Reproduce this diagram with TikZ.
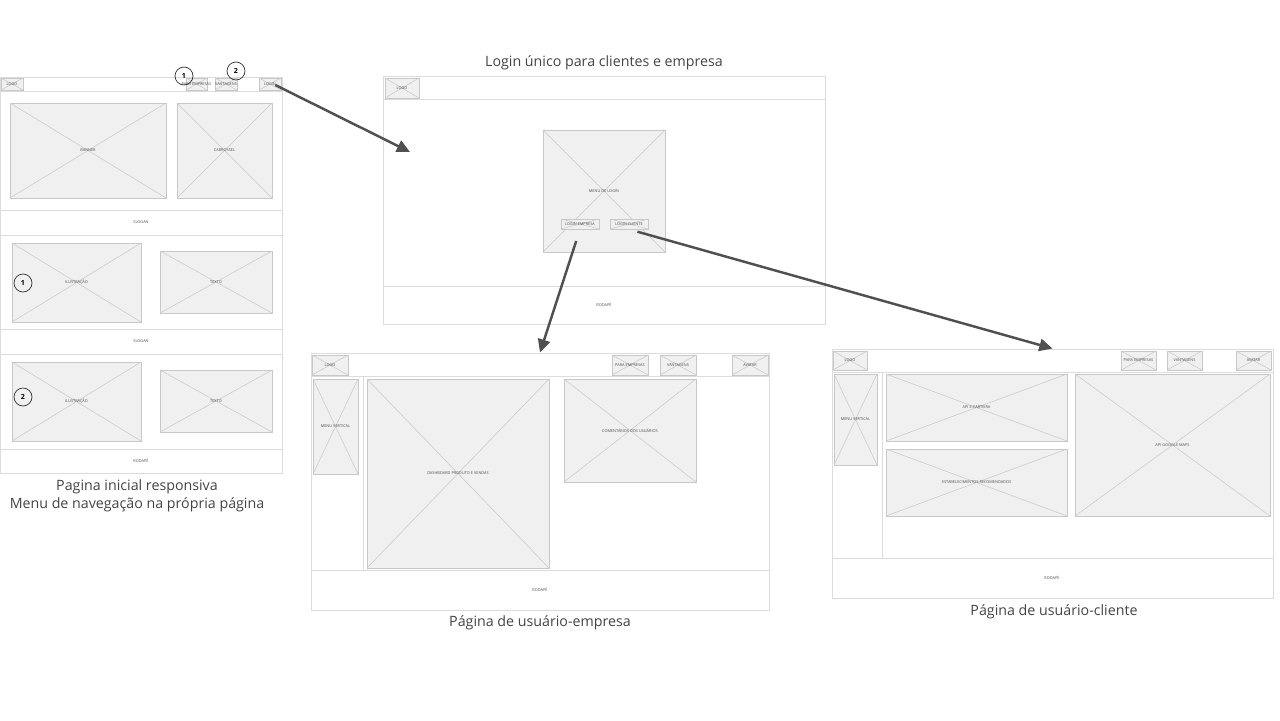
\documentclass[tikz,border=0pt]{standalone}
\usepackage{fontspec}
\setmainfont{Open Sans}
\setsansfont{Open Sans}
\usetikzlibrary{arrows.meta,fit}

\definecolor{frame}{HTML}{DCDCDC}
\definecolor{phfill}{HTML}{F0F0F0}
\definecolor{phline}{HTML}{C8C8C8}
\definecolor{flow}{HTML}{505050}
\definecolor{captioncol}{HTML}{444444}

\tikzset{
	page/.style={draw=frame, line width=0.5pt, inner sep=0pt},
	rule/.style={draw=frame, line width=0.5pt},
	ph/.style={draw=phline, fill=phfill, line width=0.35pt, inner sep=0pt,
		path picture={\draw[phline, line width=0.3pt]
			(path picture bounding box.north west) -- (path picture bounding box.south east)
			(path picture bounding box.south west) -- (path picture bounding box.north east);}},
	tiny/.style={font=\fontsize{2.2}{2.4}\selectfont, text=black!70},
	captext/.style={font=\fontsize{8.1}{10.6}\selectfont, text=captioncol, align=center},
	marker/.style={circle, draw=black!80, line width=0.4pt, minimum size=0.36cm, inner sep=0pt,
		font=\fontsize{4}{4}\selectfont\bfseries},
	flowarrow/.style={flow, line width=1.4pt, -{Triangle[length=7.5pt,width=7pt]}}
}

\begin{document}
\begin{tikzpicture}[x=0.02cm, y=-0.02cm]
	\useasboundingbox (0,0) rectangle (1280,720);

	% pagina inicial
	\node[page, fit={(0,77) (282,473)}] (home) {};
	\draw[rule] (0,91) -- (282,91);
	\draw[rule] (0,210) -- (282,210) (0,235) -- (282,235);
	\draw[rule] (0,329) -- (282,329) (0,354) -- (282,354);
	\draw[rule] (0,449) -- (282,449);
	\node[ph, fit={(1,78) (23,90)}, label={[tiny]center:LOGO}] (homelogo) {};
	\node[ph, fit={(186,78) (207,90)}, label={[tiny]center:PARA EMPRESAS}] (homenav1) {};
	\node[ph, fit={(215,78) (237,90)}, label={[tiny]center:VANTAGENS}] (homenav2) {};
	\node[ph, fit={(259,78) (281,90)}, label={[tiny]center:LOGIN}] (homelogin) {};
	\node[ph, fit={(10,103) (166,198)}, label={[tiny]center:BANNER}] (banner) {};
	\node[ph, fit={(177,103) (272,198)}, label={[tiny]center:CARROSSEL}] (carrossel) {};
	\node[tiny] (band1) at (141,222) {SLOGAN};
	\node[ph, fit={(12,243) (141,322)}, label={[tiny]center:ILUSTRAÇÃO}] (ilus1) {};
	\node[ph, fit={(160,251) (272,313)}, label={[tiny]center:TEXTO}] (texto1) {};
	\node[tiny] (band2) at (141,341) {SLOGAN};
	\node[ph, fit={(12,362) (141,441)}, label={[tiny]center:ILUSTRAÇÃO}] (ilus2) {};
	\node[ph, fit={(160,370) (272,432)}, label={[tiny]center:TEXTO}] (texto2) {};
	\node[tiny] (band3) at (141,461) {RODAPÉ};
	\node[marker] (m1top) at (184,76) {1};
	\node[marker] (m2top) at (236,71) {2};
	\node[marker] (m1) at (23,283) {1};
	\node[marker] (m2) at (23,397) {2};
	\node[captext, anchor=north] (homecap) at (137,473) {Pagina inicial responsiva\\Menu de navegação na própria página};

	% login
	\node[captext] (logincap) at (604,63) {Login único para clientes e empresa};
	\node[page, fit={(383,76) (825,324)}] (login) {};
	\draw[rule] (383,99) -- (825,99);
	\draw[rule] (383,286) -- (825,286);
	\node[ph, fit={(385,78) (419,98)}, label={[tiny]center:LOGO}] (loginlogo) {};
	\node[ph, fit={(543,130) (665,252)}] (loginmenu) {};
	\node[tiny] at (604,191) {MENU DE LOGIN};
	\node[ph, fit={(561,219) (599,229)}, label={[tiny]center:LOGIN EMPRESA}] (btnemp) {};
	\node[ph, fit={(610,219) (648,229)}, label={[tiny]center:LOGIN CLIENTE}] (btncli) {};
	\node[tiny] (loginfoot) at (604,305) {RODAPÉ};
	\coordinate (loginin) at (410,152);

	% usuario-empresa
	\node[page, fit={(311,353) (769,610)}] (emp) {};
	\draw[rule] (311,376) -- (769,376);
	\draw[rule] (363,376) -- (363,570);
	\draw[rule] (311,570) -- (769,570);
	\node[ph, fit={(312,355) (348,375)}, label={[tiny]center:LOGO}] (emplogo) {};
	\node[ph, fit={(612,355) (648,375)}, label={[tiny]center:PARA EMPRESAS}] (empnav1) {};
	\node[ph, fit={(660,355) (696,375)}, label={[tiny]center:VANTAGENS}] (empnav2) {};
	\node[ph, fit={(732,355) (768,375)}, label={[tiny]center:AVATAR}] (empavatar) {};
	\node[ph, fit={(313,379) (358,474)}, label={[tiny]center:MENU VERTICAL}] (empmenu) {};
	\node[ph, fit={(367,379) (549,568)}, label={[tiny]center:DASHBOARD PRODUTO E VENDAS}] (dashboard) {};
	\node[ph, fit={(564,379) (696,482)}, label={[tiny]center:COMENTÁRIOS DOS USUÁRIOS}] (comentarios) {};
	\node[tiny] (empfoot) at (540,590) {RODAPÉ};
	\node[captext] (empcap) at (540,623) {Página de usuário-empresa};

	% usuario-cliente
	\node[page, fit={(832,349) (1273,598)}] (cli) {};
	\draw[rule] (832,372) -- (1273,372);
	\draw[rule] (882,372) -- (882,558);
	\draw[rule] (832,558) -- (1273,558);
	\node[ph, fit={(833,351) (867,370)}, label={[tiny]center:LOGO}] (clilogo) {};
	\node[ph, fit={(1121,351) (1156,370)}, label={[tiny]center:PARA EMPRESAS}] (clinav1) {};
	\node[ph, fit={(1167,351) (1202,370)}, label={[tiny]center:VANTAGENS}] (clinav2) {};
	\node[ph, fit={(1236,351) (1271,370)}, label={[tiny]center:AVATAR}] (cliavatar) {};
	\node[ph, fit={(834,374) (877,465)}, label={[tiny]center:MENU VERTICAL}] (climenu) {};
	\node[ph, fit={(886,374) (1067,441)}, label={[tiny]center:API E-CARTEIRA}] (carteira) {};
	\node[ph, fit={(886,449) (1067,516)}, label={[tiny]center:ESTABELECIMENTOS RECOMENDADOS}] (estab) {};
	\node[ph, fit={(1075,374) (1270,516)}, label={[tiny]center:API GOOGLE MAPS}] (maps) {};
	\node[tiny] (clifoot) at (1052,578) {RODAPÉ};
	\node[captext] (clicap) at (1054,612) {Página de usuário-cliente};

	% fluxo
	\draw[flowarrow] (homelogin.east) ++(-6,1) -- (loginin);
	\draw[flowarrow, shorten <=7pt] (btnemp.south) -- (emp.north);
	\draw[flowarrow, shorten <=5pt] (btncli.south) -- (cli.north);
\end{tikzpicture}
\end{document}
